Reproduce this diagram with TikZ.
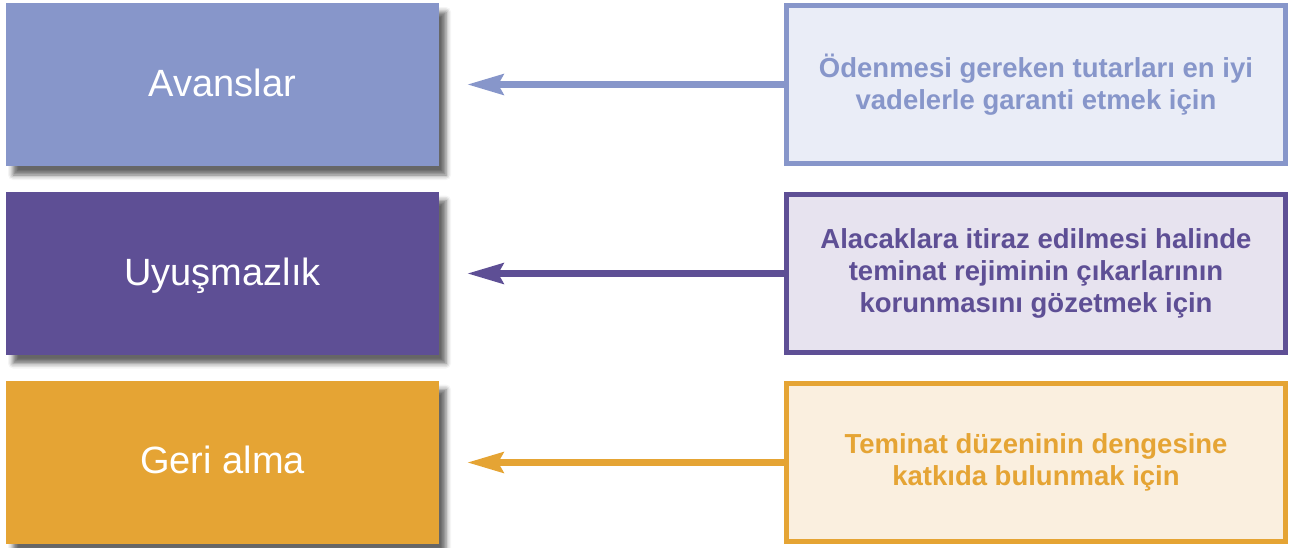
\documentclass[tikz,border=0pt]{standalone}
\usepackage{fontspec}
\setmainfont{Liberation Sans}
\usetikzlibrary{arrows.meta,shadows.blur}
\definecolor{cblue}{HTML}{8796CA}
\definecolor{cpurp}{HTML}{5E4F95}
\definecolor{corng}{HTML}{E5A434}
\definecolor{lblue}{HTML}{EAEDF7}
\definecolor{lpurp}{HTML}{E7E3EF}
\definecolor{lorng}{HTML}{FAEFDF}
\tikzset{
  lbox/.style={rectangle, inner sep=0pt, line width=0pt, minimum width=433pt, minimum height=163pt,
    blur shadow={shadow xshift=7pt, shadow yshift=-9pt, shadow blur radius=5pt, shadow opacity=60}},
  ltext/.style={text=white, font=\fontsize{38}{44}\selectfont, anchor=base, inner sep=0pt},
  rbox/.style={rectangle, line width=5pt, minimum width=499pt, minimum height=158pt, inner sep=0pt,
    align=center, font=\fontsize{27.5}{32}\selectfont\bfseries},
  arr/.style={line width=7.5pt, -{Stealth[length=36pt, width=20pt, inset=5pt]}, shorten >=28pt, shorten <=-2pt}
}
\begin{document}
\begin{tikzpicture}[x=1pt, y=-1pt]
\useasboundingbox (0,0) rectangle (1297,547);
% left boxes
\node[lbox, fill=cblue] (L1) at (222.5,84.5) {};
\node[lbox, fill=cpurp] (L2) at (222.5,273) {};
\node[lbox, fill=corng] (L3) at (222.5,462) {};
\node[ltext] (T1) at (222.5,96) {Avanslar};
\node[ltext] (T2) at (222.5,285) {Uyuşmazlık};
\node[ltext] (T3) at (222.5,473) {Geri alma};
% right boxes
\node[rbox, draw=cblue, fill=lblue, text=cblue] (R1) at (1036,84.5)
  {Ödenmesi gereken tutarları en iyi\\vadelerle garanti etmek için};
\node[rbox, draw=cpurp, fill=lpurp, text=cpurp] (R2) at (1036,273.5)
  {Alacaklara itiraz edilmesi halinde\\teminat rejiminin çıkarlarının\\korunmasını gözetmek için};
\node[rbox, draw=corng, fill=lorng, text=corng] (R3) at (1036,462.5)
  {Teminat düzeninin dengesine\\katkıda bulunmak için};
% arrows
\draw[arr, cblue] (R1.west) -- (R1.west -| L1.east);
\draw[arr, cpurp] (R2.west) -- (R2.west -| L2.east);
\draw[arr, corng] (R3.west) -- (R3.west -| L3.east);
\end{tikzpicture}
\end{document}
